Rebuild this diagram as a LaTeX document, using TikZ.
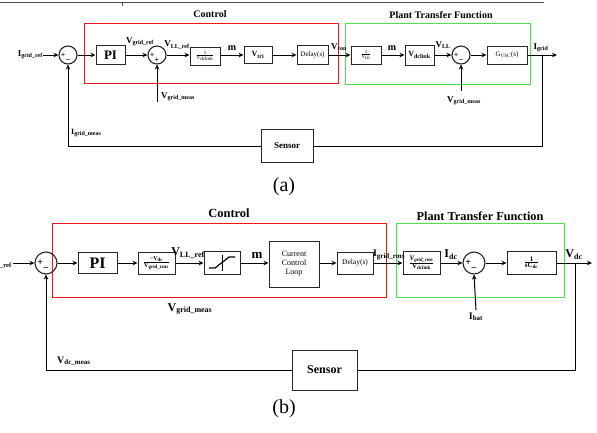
\documentclass[tikz,border=0pt]{standalone}
\usepackage{fontspec}
\setmainfont{Liberation Serif}
\usetikzlibrary{arrows.meta}
\newcommand\myfr[2]{$\frac{\mbox{#1}}{\mbox{#2}}$}
\newcommand\fsz[1]{\fontsize{#1}{#1}\selectfont}
\definecolor{ctrlred}{RGB}{240,20,20}
\definecolor{plantgreen}{RGB}{70,230,70}
\begin{document}
\begin{tikzpicture}[x=1pt,y=-1pt,
  blk/.style={draw=black!85, line width=1pt, inner sep=0pt, align=center},
  sumn/.style={circle, draw=black!85, line width=1.1pt, inner sep=0pt},
  sig/.style={-{Stealth[length=5pt,width=4.5pt]}, line width=1pt},
  wire/.style={line width=1pt},
  lbl/.style={inner sep=0pt, font=\bfseries\fsz{9}},
  lblb/.style={inner sep=0pt, font=\bfseries\fsz{12}},
  frame/.style={line width=0.9pt},
  title/.style={inner sep=0pt, font=\bfseries},
  sgna/.style={inner sep=0pt, font=\bfseries\fsz{8}},
  sgnb/.style={inner sep=0pt, font=\bfseries\fsz{10}},
]
\useasboundingbox (0,0) rectangle (597,432);
% page edge artefact
\draw[black!70, line width=1.5pt] (0,2.5) -- (544,2.5);
\draw[black!70, line width=0.6pt] (122,2.5) -- (122,6);

% ================= (a) =================
\draw[frame, ctrlred] (84,23) rectangle (338,83);
\draw[frame, plantgreen] (345,23) rectangle (530,84);
\node[title, font=\bfseries\fsz{10}] (tCa) at (210,14) {Control};
\node[title, font=\bfseries\fsz{10}] (tPa) at (441,15) {Plant Transfer Function};

\node[sumn, minimum size=18pt] (sA1) at (68,55) {};
\node[blk, minimum width=29pt, minimum height=19pt, font=\bfseries\fsz{13}] (PIa) at (110.5,55) {PI};
\node[sumn, minimum size=18pt] (sA2) at (157,55) {};
\node[blk, minimum width=30pt, minimum height=18pt, font=\fsz{5}] (invA) at (205,56) {\myfr{1}{V\textsubscript{dclink}}};
\node[blk, minimum width=28pt, minimum height=17pt, font=\bfseries\fsz{8}] (vtri) at (258,55) {V\textsubscript{tri}};
\node[blk, minimum width=31pt, minimum height=19pt, font=\fsz{7}] (delA) at (312.5,55) {Delay(s)};
\node[blk, minimum width=30pt, minimum height=18pt, font=\fsz{5}] (invtri) at (366,55) {\myfr{1}{V\textsubscript{tri}}};
\node[blk, minimum width=29pt, minimum height=20pt, font=\bfseries\fsz{8}] (vdcl) at (419.5,55) {V\textsubscript{dclink}};
\node[sumn, minimum size=18pt] (sA3) at (461,55) {};
\node[blk, minimum width=40pt, minimum height=18pt, font=\fsz{7}] (gvsc) at (507,55) {G\textsubscript{VSC}(s)};
\node[blk, minimum width=52pt, minimum height=33pt, font=\bfseries\fsz{9}] (sensA) at (287,146) {Sensor};

% signs (a)
\node[sgna] at ([xshift=-4.8pt]sA1.center) {+};
\node[sgna] at ([yshift=-5.6pt]sA1.center) {−};
\node[sgna] at ([xshift=-4.8pt]sA2.center) {+};
\node[sgna] at ([yshift=-5.2pt]sA2.center) {+};
\node[sgna] at ([xshift=-4.8pt]sA3.center) {+};
\node[sgna] at ([yshift=-5.6pt]sA3.center) {−};

% labels (a)
\node[lbl, anchor=east] (iref) at (43,55) {I\textsubscript{grid\_ref}};
\node[lbl] (lVgr) at (140,42) {V\textsubscript{grid\_ref}};
\node[lbl] (lVLLr) at (177,45) {V\textsubscript{LL\_ref}};
\node[lbl, font=\bfseries\fsz{10}] (lma) at (232,48) {m};
\node[lbl] (lVcon) at (339,47) {V\textsubscript{con}};
\node[lbl, font=\bfseries\fsz{10}] (lmb) at (392,48) {m};
\node[lbl] (lVLL) at (443,45) {V\textsubscript{LL}};
\node[lbl] (lIg) at (541,48) {I\textsubscript{grid}};
\node[lbl, anchor=west] (lVgm1) at (161,97) {V\textsubscript{grid\_meas}};
\node[lbl] (lVgm2) at (464,101) {V\textsubscript{grid\_meas}};
\node[lbl, font=\bfseries\fsz{8}, anchor=west] (lIgm) at (71,133) {I\textsubscript{grid\_meas}};

\coordinate (brA) at (542,55);
\coordinate (outA) at (557,55);
\coordinate (vgmA) at (157,102);
\coordinate (vgmB) at (461,91);

% connectors (a)
\draw[sig] (iref.east) -- (sA1.west);
\draw[sig] (sA1.east) -- (PIa.west);
\draw[sig] (PIa.east) -- (sA2.west);
\draw[sig] (sA2.east) -- (invA.west |- sA2.east);
\draw[sig] (invA.east |- sA2.east) -- (vtri.west);
\draw[sig] (vtri.east) -- (delA.west);
\draw[sig] (delA.east) -- (invtri.west);
\draw[sig] (invtri.east) -- (vdcl.west);
\draw[sig] (vdcl.east) -- (sA3.west);
\draw[sig] (sA3.east) -- (gvsc.west);
\draw[sig] (gvsc.east) -- (outA);
\draw[sig] (vgmA) -- (sA2.south);
\draw[sig] (vgmB) -- (sA3.south);
\draw[wire] (brA) |- (sensA.east);
\draw[sig] (sensA.west) -| (sA1.south);

\node[inner sep=0pt, font=\fsz{20}] (capA) at (284,187) {(a)};

% ================= (b) =================
\draw[frame, ctrlred] (52,223) rectangle (386,297);
\draw[frame, plantgreen] (396,223) rectangle (564,297);
\node[title, font=\bfseries\fsz{12.5}] (tCb) at (229,213) {Control};
\node[title, font=\bfseries\fsz{12.3}] (tPb) at (480,216) {Plant Transfer Function};

\node[sumn, minimum size=22pt] (sB1) at (46,263) {};
\node[blk, minimum width=39pt, minimum height=21pt, font=\bfseries\fsz{16}] (PIb) at (97.5,263) {PI};
\node[blk, minimum width=37pt, minimum height=22pt, font=\bfseries\fsz{6}] (gain) at (156.5,263) {\myfr{−V\textsubscript{dc}}{V\textsubscript{grid\_rms}}};
\node[blk, minimum width=36pt, minimum height=23pt] (sat) at (222,263) {};
\node[blk, minimum width=50pt, minimum height=46pt, font=\fsz{8}] (ccl) at (294,264) {Current\\[1pt]Control\\[1pt]Loop};
\node[blk, minimum width=36pt, minimum height=22pt, font=\fsz{7.5}] (delB) at (355,263) {Delay(s)};
\node[blk, minimum width=37pt, minimum height=23pt, font=\bfseries\fsz{7}] (vrat) at (421.5,263) {\myfr{\itshape V\textsubscript{grid\_rms}}{V\textsubscript{dclink}}};
\node[sumn, minimum size=22pt] (sB2) at (474,263) {};
\node[blk, minimum width=49pt, minimum height=23pt, font=\bfseries\fsz{7}] (isc) at (531.5,263) {\myfr{1}{sC\textsubscript{dc}}};
\node[blk, minimum width=65pt, minimum height=40pt, font=\bfseries\fsz{12}] (sensB) at (324.5,370) {Sensor};

% saturation glyph
\draw[line width=0.9pt] (222,255) -- (222,271);
\draw[line width=1.2pt] (209,268) -- (215,268) -- (229,257) -- (235,257);

% signs (b)
\node[sgnb] at ([xshift=-5.8pt]sB1.center) {+};
\node[sgnb] at ([yshift=-7pt]sB1.center) {−};
\node[sgnb] at ([xshift=-5.8pt]sB2.center) {+};
\node[sgnb] at ([yshift=-7pt]sB2.center) {−};

% labels (b)
\node[inner sep=0pt, font=\bfseries\fsz{6.5}, anchor=west] (lref) at (0,266) {\_ref};
\node[lblb] (lVLLb) at (188,253) {V\textsubscript{LL\_ref}};
\node[lblb, font=\bfseries\fsz{13}] (lmB) at (257,255) {m};
\node[lblb, font=\bfseries\fsz{10}] (lIgr) at (389,255) {I\textsubscript{grid\_rms}};
\node[lblb] (lIdc) at (451,255) {I\textsubscript{dc}};
\node[lblb] (lVdc) at (574,255) {V\textsubscript{dc}};
\node[lblb] (lVgmB) at (190,309) {V\textsubscript{grid\_meas}};
\node[lblb, font=\bfseries\fsz{10}] (lIbat) at (476,317) {I\textsubscript{bat}};
\node[lblb, font=\bfseries\fsz{10}, anchor=west] (lVdcm) at (57,361) {V\textsubscript{dc\_meas}};

\coordinate (inB) at (13,263);
\coordinate (brB) at (575,263);
\coordinate (outB) at (592,263);
\coordinate (ibatB) at (476,310);

% connectors (b)
\draw[sig] (inB) -- (sB1.west);
\draw[sig] (sB1.east) -- (PIb.west);
\draw[sig] (PIb.east) -- (gain.west);
\draw[sig] (gain.east) -- (sat.west);
\draw[sig] (sat.east) -- (ccl.west |- sat.east);
\draw[sig] (ccl.east |- delB.west) -- (delB.west);
\draw[sig] (delB.east) -- (vrat.west);
\draw[sig] (vrat.east) -- (sB2.west);
\draw[sig] (sB2.east) -- (isc.west);
\draw[sig] (isc.east) -- (outB);
\draw[sig] (ibatB) -- (sB2.south);
\draw[wire] (brB) |- (sensB.east);
\draw[sig] (sensB.west) -| (sB1.south);

\node[inner sep=0pt, font=\fsz{20}] (capB) at (284,409) {(b)};
\end{tikzpicture}
\end{document}
